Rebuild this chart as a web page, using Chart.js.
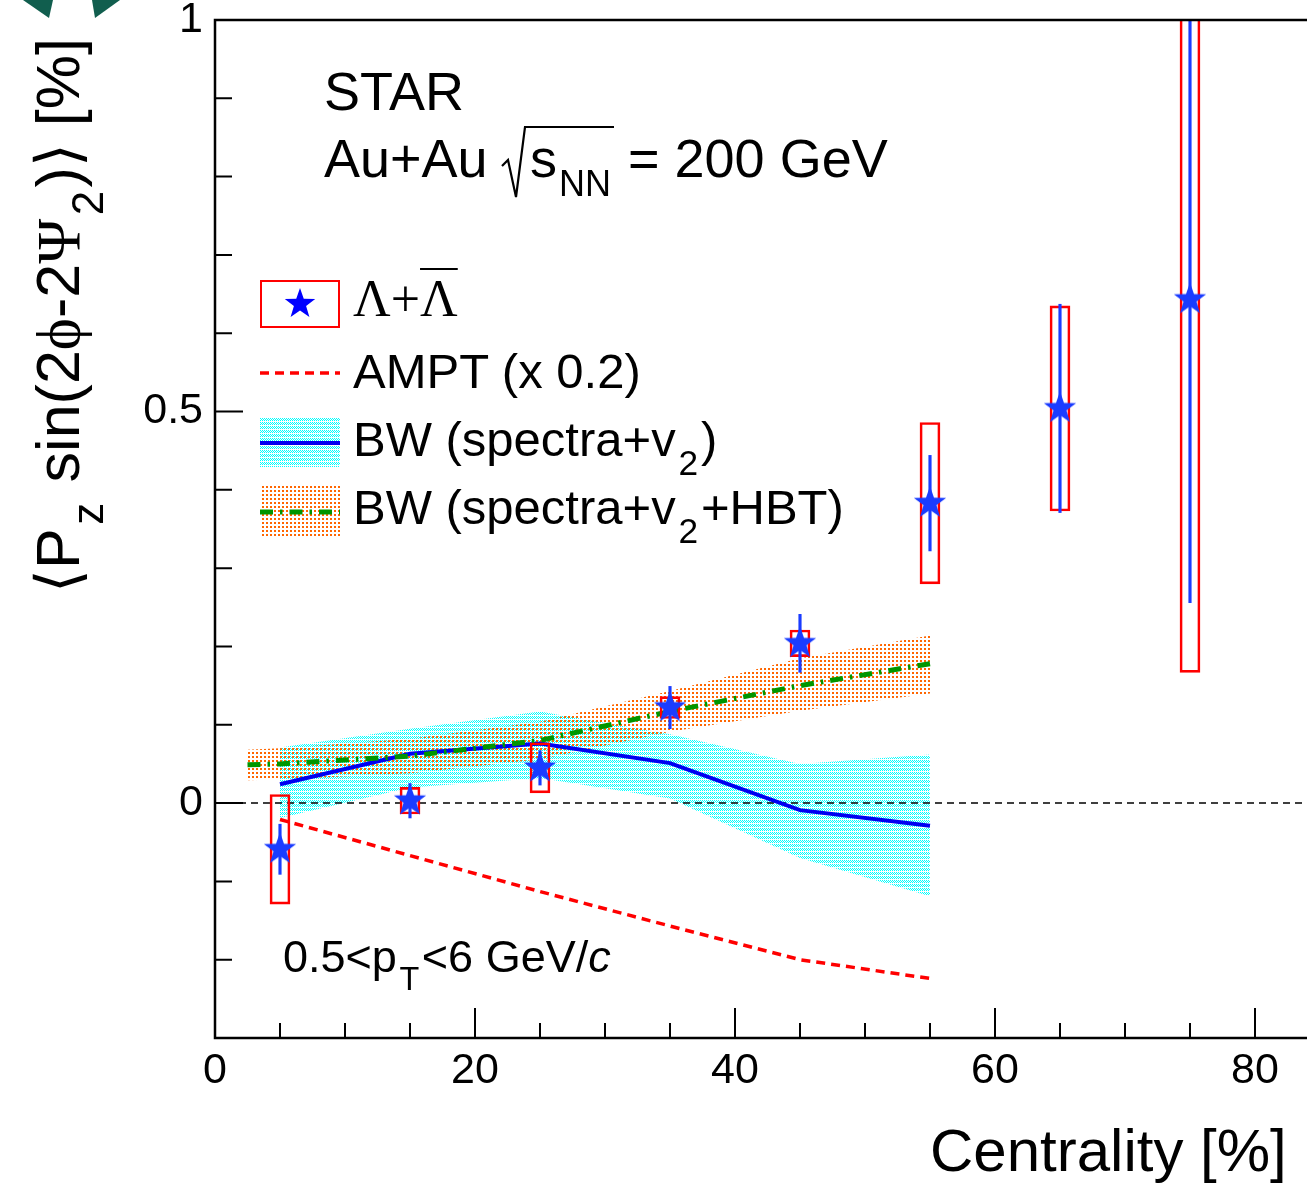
<!DOCTYPE html>
<html>
<head>
<meta charset="utf-8">
<script src="https://cdn.jsdelivr.net/npm/chart.js@4"></script>
<style>
  html, body { margin: 0; padding: 0; overflow: hidden; background: #fff; }
  #wrap { position: relative; width: 1307px; height: 1187px; overflow: hidden;
          font-family: 'Liberation Sans', Arial, Helvetica, sans-serif; color: #000; }
  #chart { position: absolute; left: 0; top: 0; }
  #legendSym { position: absolute; left: 250px; top: 270px; }
  .txt { position: absolute; white-space: nowrap; line-height: 1; }
  .serif { font-family: 'Liberation Serif', 'Times New Roman', serif; }
  .sub { font-size: 0.72em; position: relative; top: 0.55em; margin: 0 0.08em; }
  .ovl { text-decoration: overline; text-decoration-thickness: 2px; }
</style>
</head>
<body>
<div id="wrap">
  <canvas id="chart" width="1320" height="1187"></canvas>
  <canvas id="legendSym" width="100" height="280"></canvas>

  <svg style="position:absolute;left:0;top:0" width="140" height="30">
    <polygon points="23,0 53,0 49,18" fill="#115e4e"/>
    <polygon points="92,0 120,0 95,18" fill="#115e4e"/>
  </svg>

  <div class="txt" data-x="324" data-b="110" data-s="54">STAR</div>
  <div class="txt" data-x="324" data-b="177" data-s="54">Au+Au</div>
  <svg style="position:absolute;left:0;top:0" width="700" height="210">
    <polyline points="502,166 508,160 516,197 525,127 614,127" fill="none" stroke="#000" stroke-width="2.2"/>
  </svg>
  <div class="txt" data-x="530" data-b="177" data-s="54">s</div>
  <div class="txt" data-x="559" data-b="196" data-s="36">NN</div>
  <div class="txt" data-x="628" data-b="177" data-s="54">= 200 GeV</div>

  <div class="txt serif" data-x="353" data-b="317" data-s="52">&Lambda;+<span class="ovl">&Lambda;</span></div>
  <div class="txt" data-x="353" data-b="388" data-s="49">AMPT (x 0.2)</div>
  <div class="txt" data-x="353" data-b="456" data-s="49">BW (spectra+v<span class="sub">2</span>)</div>
  <div class="txt" data-x="353" data-b="524" data-s="49">BW (spectra+v<span class="sub">2</span>+HBT)</div>

  <div class="txt" data-x="283" data-b="972" data-s="45">0.5&lt;p<span class="sub">T</span>&lt;6 GeV/<i>c</i></div>

  <div class="txt" id="xtitle" data-x="930" data-b="1172" data-s="60">Centrality [%]</div>
  <div class="txt" id="ytitle" style="font-size:61px">&#10216;P<span class="sub">z</span> sin(2<span class="serif">&#981;</span>-2<span class="serif">&Psi;</span><span class="sub">2</span>)&#10217; [%]</div>
</div>

<script>
// measured values, centrality bins
const centrality = [5, 15, 25, 35, 45, 55, 65, 75];
const polValue = [-0.059, 0.003, 0.045, 0.122, 0.204, 0.383, 0.504, 0.643];
const statErr = [0.032, 0.022, 0.022, 0.027, 0.037, 0.061, 0.133, 0.387];
const sysErr = [0.070, 0.017, 0.032, 0.014, 0.017, 0.103, 0.131, 0.476];

// model curves
const modelCent = [5, 15, 25, 35, 45, 55];
const amptValue = [-0.021, -0.067, -0.113, -0.157, -0.200, -0.224];
const bwValue = [0.024, 0.063, 0.076, 0.051, -0.009, -0.029];
const bwUpper = [0.071, 0.095, 0.117, 0.088, 0.050, 0.062];
const bwLower = [-0.019, 0.020, 0.032, 0.006, -0.070, -0.119];

const hbtCent = [2.5, 5, 15, 25, 35, 45, 55];
const hbtValue = [0.049, 0.050, 0.060, 0.080, 0.117, 0.150, 0.178];
const hbtUpper = [0.068, 0.070, 0.082, 0.104, 0.143, 0.185, 0.214];
const hbtLower = [0.029, 0.030, 0.038, 0.056, 0.091, 0.118, 0.140];

const zeroLine = [0, 85];

// ---- text placement (baseline based) ----
document.querySelectorAll(".txt[data-b]").forEach(function (el) {
  const s = +el.dataset.s;
  el.style.fontSize = s + "px";
  el.style.left = el.dataset.x + "px";
  el.style.top = (+el.dataset.b - 0.8465 * s) + "px";
});
(function () {
  const el = document.getElementById("ytitle");
  const s = 61, w = el.offsetWidth;
  const cx = 80 - 0.3465 * s, cy = 315;
  el.style.left = (cx - w / 2) + "px";
  el.style.top = (cy - s / 2) + "px";
  el.style.transform = "rotate(-90deg)";
})();

// ---- fill patterns (ROOT style hatches) ----
function makePattern(ctx, kind) {
  const c = document.createElement("canvas");
  const g = c.getContext("2d");
  if (kind === "cyan") {
    // checker dots with a white row every 4 px
    c.width = 2; c.height = 4;
    g.fillStyle = "#00ffff";
    g.fillRect(0, 0, 1, 1); g.fillRect(1, 1, 1, 1); g.fillRect(0, 2, 1, 1);
  } else {
    c.width = 4; c.height = 4;
    g.fillStyle = "#ff6600";
    g.fillRect(0, 0, 2, 2);
  }
  return ctx.createPattern(c, "repeat");
}

function makeStar(color, R) {
  const c = document.createElement("canvas");
  const size = Math.ceil(2 * R + 4);
  c.width = size; c.height = size;
  const g = c.getContext("2d");
  const cx = size / 2, cy = size / 2, r = R * 0.4;
  g.beginPath();
  for (let i = 0; i < 10; i++) {
    const a = -Math.PI / 2 + i * Math.PI / 5;
    const rr = i % 2 === 0 ? R : r;
    g.lineTo(cx + rr * Math.cos(a), cy + rr * Math.sin(a));
  }
  g.closePath();
  g.fillStyle = color;
  g.fill();
  return c;
}

const ctx = document.getElementById("chart").getContext("2d");
const cyanPat = makePattern(ctx, "cyan");
const orangePat = makePattern(ctx, "orange");
const starImg = makeStar("#1a3cff", 17);

function pts(xs, ys) { return xs.map((x, i) => ({ x: x, y: ys[i] })); }

const datasets = [
  { type: "scatter", data: pts(centrality, polValue), pointStyle: starImg, pointRadius: 17, order: 0 },
  { type: "bar", data: centrality.map((x, i) => ({ x: x, y: [polValue[i] - statErr[i], polValue[i] + statErr[i]] })),
    backgroundColor: "#1a3cff", borderWidth: 0, barThickness: 2.5, grouped: false, order: 1 },
  { type: "bar", data: centrality.map((x, i) => ({ x: x, y: [polValue[i] - sysErr[i], polValue[i] + sysErr[i]] })),
    backgroundColor: "rgba(0,0,0,0)", borderColor: "#ff0000", borderWidth: 2, borderSkipped: false,
    barThickness: 20, grouped: false, order: 2 },
  { type: "line", data: pts(hbtCent, hbtValue), borderColor: "#009600", borderWidth: 5,
    borderDash: [13, 7, 2.5, 7], pointRadius: 0, fill: false, order: 3 },
  { type: "line", data: pts(modelCent, bwValue), borderColor: "#0000f0", borderWidth: 4,
    pointRadius: 0, fill: false, order: 4 },
  { type: "line", data: pts(modelCent, amptValue), borderColor: "#ff0000", borderWidth: 3.5,
    borderDash: [9, 6], pointRadius: 0, fill: false, order: 5 },
  { type: "line", data: pts(zeroLine, [0, 0]), borderColor: "#000", borderWidth: 1.5,
    borderDash: [7, 5], pointRadius: 0, fill: false, order: 6 },
  { type: "line", data: pts(hbtCent, hbtUpper), borderColor: "rgba(0,0,0,0)", borderWidth: 0,
    pointRadius: 0, backgroundColor: orangePat, fill: { target: 8, above: orangePat, below: orangePat }, order: 7 },
  { type: "line", data: pts(hbtCent, hbtLower), borderColor: "rgba(0,0,0,0)", borderWidth: 0,
    pointRadius: 0, fill: false, order: 7 },
  { type: "line", data: pts(modelCent, bwUpper), borderColor: "rgba(0,0,0,0)", borderWidth: 0,
    pointRadius: 0, backgroundColor: cyanPat, fill: { target: 10, above: cyanPat, below: cyanPat }, order: 8 },
  { type: "line", data: pts(modelCent, bwLower), borderColor: "rgba(0,0,0,0)", borderWidth: 0,
    pointRadius: 0, fill: false, order: 8 }
];

function near(a, b) { return Math.abs(a - b) < 1e-6; }

// ROOT style frame with inward ticks
const frameTicks = {
  id: "frameTicks",
  afterDatasetsDraw(chart) {
    const c = chart.ctx, a = chart.chartArea, x = chart.scales.x, y = chart.scales.y;
    c.save();
    c.strokeStyle = "#000";
    c.lineWidth = 2;
    c.beginPath();
    x.ticks.forEach(function (t) {
      const px = x.getPixelForValue(t.value);
      const len = near(t.value % 20, 0) ? 30 : 15;
      c.moveTo(px, a.bottom); c.lineTo(px, a.bottom - len);
    });
    y.ticks.forEach(function (t) {
      const py = y.getPixelForValue(t.value);
      const len = near(t.value * 2, Math.round(t.value * 2)) ? 28 : 17;
      c.moveTo(a.left, py); c.lineTo(a.left + len, py);
    });
    c.stroke();
    c.lineWidth = 2.5;
    c.strokeRect(a.left, a.top, a.right - a.left, a.bottom - a.top);
    c.restore();
  }
};

Chart.defaults.font.family = "'Liberation Sans', Arial, sans-serif";
Chart.defaults.color = "#000";

new Chart(ctx, {
  type: "line",
  data: { datasets: datasets },
  options: {
    responsive: false,
    animation: false,
    layout: { autoPadding: false, padding: { top: 20, right: 0, left: 0, bottom: 0 } },
    plugins: { legend: { display: false }, tooltip: { enabled: false } },
    scales: {
      x: {
        type: "linear", min: 0, max: 85, offset: false,
        grid: { display: false, drawTicks: false, offset: false },
        border: { display: false },
        ticks: {
          stepSize: 5, autoSkip: false, maxRotation: 0, padding: 7,
          font: { size: 43 },
          callback: (v) => (near(v % 20, 0) && v < 84 ? String(v) : "")
        },
        afterFit(s) { s.height = 149; s.paddingLeft = 0; s.paddingRight = 0; }
      },
      y: {
        type: "linear", min: -0.3, max: 1,
        grid: { display: false, drawTicks: false },
        border: { display: false },
        ticks: {
          stepSize: 0.1, autoSkip: false, padding: 12,
          font: { size: 43 },
          callback: (v) => (near(v, 0) ? "0" : near(v, 0.5) ? "0.5" : near(v, 1) ? "1" : "")
        },
        afterFit(s) { s.width = 215; s.paddingTop = 0; s.paddingBottom = 0; }
      }
    }
  },
  plugins: [frameTicks]
});

// legend symbols
(function () {
  const g = document.getElementById("legendSym").getContext("2d");
  g.strokeStyle = "#ff0000"; g.lineWidth = 2;
  g.strokeRect(11, 11, 78, 46);
  const st = makeStar("#0000ff", 16);
  g.drawImage(st, 50 - st.width / 2, 34 - st.height / 2);
  g.setLineDash([9, 6]); g.lineWidth = 3.5;
  g.beginPath(); g.moveTo(10, 103); g.lineTo(90, 103); g.stroke();
  g.setLineDash([]);
  g.fillStyle = makePattern(g, "cyan"); g.fillRect(10, 148, 80, 49);
  g.strokeStyle = "#0000f0"; g.lineWidth = 4;
  g.beginPath(); g.moveTo(10, 173); g.lineTo(90, 173); g.stroke();
  g.fillStyle = makePattern(g, "orange"); g.fillRect(10, 216, 80, 51);
  g.strokeStyle = "#009600"; g.lineWidth = 5; g.setLineDash([13, 7, 2.5, 7]);
  g.beginPath(); g.moveTo(10, 242); g.lineTo(90, 242); g.stroke();
})();
</script>
</body>
</html>
